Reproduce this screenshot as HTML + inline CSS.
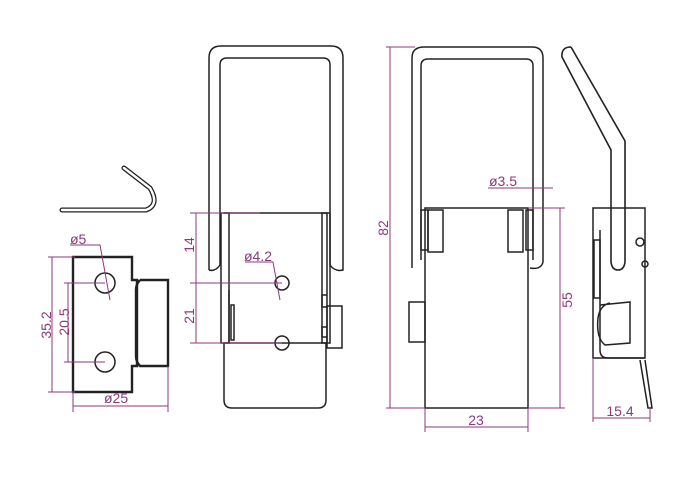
<!DOCTYPE html>
<html><head><style>html,body{margin:0;padding:0;background:#fff}svg{display:block}</style></head>
<body>
<svg width="700" height="500" viewBox="0 0 700 500" xmlns="http://www.w3.org/2000/svg" font-family="Liberation Sans, sans-serif">
<g fill="none" stroke="#222" stroke-width="1.5">
<!-- wire clip -->
<path d="M62,210 L146,210 Q160,205 150,188 L124,168" stroke-width="5" stroke="#222" stroke-linecap="round"/>
<path d="M62,210 L146,210 Q160,205 150,188 L124,168" stroke-width="2.4" stroke="#fff" stroke-linecap="round"/>
<!-- left plate -->
<path d="M73,257 L132,257 L132,280 L137,280 L137,366 L132,366 L132,392 L73,392 Z" stroke-width="2.4"/>
<path d="M140,280 L168,280 L168,366 L140,366 Q136,362 136,356 L136,290 Q136,284 140,280" stroke-width="2.4"/>
<circle cx="105" cy="283" r="10"/>
<circle cx="105" cy="362" r="10"/>
<!-- middle bail -->
<path d="M209,270 L209,58 Q209,46 221,46 L331,46 Q343,46 343,58 L343,270 Q335,272 330,265"/>
<path d="M220,265 L220,65 Q220,58 227,58 L323,58 Q330,58 330,65 L330,265"/>
<path d="M209,270 Q215,272 220,265"/>
<!-- middle body -->
<path d="M224,213 L327,213 L327,343"/>
<rect x="221" y="213" width="8" height="130"/>
<rect x="322" y="213" width="8" height="130"/>
<path d="M229,343 L229,290"/>
<rect x="231" y="305" width="3" height="35"/>
<path d="M327,295 L322,295 L322,307 L327,307 M327,327 L322,327 L322,337 L327,337"/>
<rect x="327" y="306" width="15" height="42"/>
<path d="M224,343 L326,343 L326,400 Q326,408 318,408 L232,408 Q224,408 224,400 Z"/>
<circle cx="282" cy="283" r="7"/>
<circle cx="282" cy="343" r="7"/>
<!-- right bail -->
<path d="M412,268 L412,58 Q412,47 424,47 L532,47 Q543,47 543,58 L543,262 Q541,270 530,268"/>
<path d="M421,260 L421,66 Q421,59 428,59 L526,59 Q533,59 533,66 L533,260"/>
<!-- right body -->
<rect x="425" y="208" width="103" height="200"/>
<rect x="409" y="302" width="16" height="40"/>
<rect x="421" y="210" width="7" height="40"/>
<rect x="428" y="210" width="15" height="42"/>
<rect x="508" y="210" width="15" height="42"/>
<rect x="526" y="210" width="7" height="40"/>
<!-- side view -->
<path d="M571,47 L625,141 L625,262 Q624,270 618,270 Q612,270 611,262 L611,150 L562,57 Q561,47 571,47" stroke-width="1.6"/>
<rect x="593" y="208" width="52" height="150"/>
<path d="M600,230 L600,350 Q600,358 608,358 L645,358"/>
<rect x="594" y="240" width="6" height="58"/>
<path d="M600,305 L630,302 L630,343 L605,345 Q596,338 598,318 Q600,305 610,303"/>
<path d="M640,360 L648,408 L652,408 L645,360"/>
<circle cx="640" cy="242" r="4"/>
<circle cx="645" cy="264" r="3"/>
</g>
<g stroke="#8b3a7a" stroke-width="1" fill="none">
<path d="M48,257 L75,257 M48,392 L75,392 M52,257 L52,392"/>
<path d="M64,283 L105,283 M64,362 L105,362 M68,283 L68,362"/>
<path d="M73,392 L73,412 M168,366 L168,412 M73,406 L168,406"/>
<path d="M70,245 L100,245 L110,300"/>
<path d="M190,213 L260,213 M190,283 L282,283 M190,343 L282,343 M196,213 L196,343"/>
<path d="M245,262 L273,262 L280,300"/>
<path d="M386,47 L415,47 M386,408 L425,408 M390,47 L390,408"/>
<path d="M528,208 L565,208 M528,408 L565,408 M560,208 L560,408"/>
<path d="M425,408 L425,432 M528,408 L528,432 M425,427 L528,427"/>
<path d="M488,188 L553,188"/>
<path d="M593,358 L593,422 M650,408 L650,422 M593,418 L650,418"/>
</g>
<g fill="#8b3a7a" font-size="14">
<text x="70" y="244">ø5</text>
<text transform="translate(51,325) rotate(-90)" text-anchor="middle">35.2</text>
<text transform="translate(69,322) rotate(-90)" text-anchor="middle">20.5</text>
<text x="104" y="403">ø25</text>
<text transform="translate(194,245) rotate(-90)" text-anchor="middle">14</text>
<text transform="translate(194,316) rotate(-90)" text-anchor="middle">21</text>
<text x="244" y="261">ø4.2</text>
<text transform="translate(388,228) rotate(-90)" text-anchor="middle">82</text>
<text transform="translate(572,300) rotate(-90)" text-anchor="middle">55</text>
<text x="476" y="425" text-anchor="middle">23</text>
<text x="489" y="186">ø3.5</text>
<text x="620" y="416" text-anchor="middle">15.4</text>
</g>
</svg>
</body></html>
